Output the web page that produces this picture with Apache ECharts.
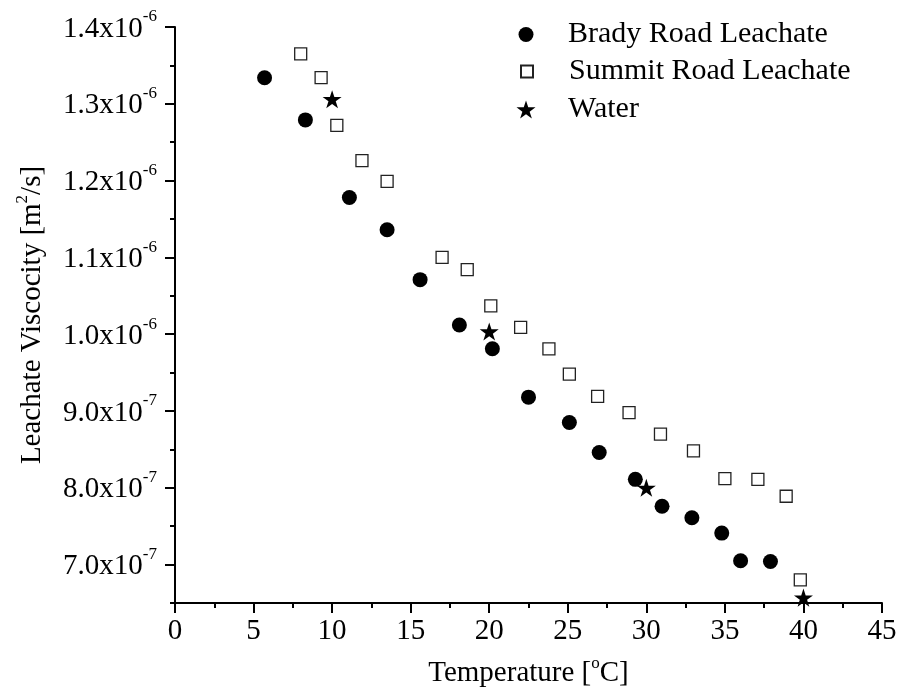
<!DOCTYPE html>
<html><head><meta charset="utf-8">
<script src="https://cdn.jsdelivr.net/npm/echarts@6/dist/echarts.min.js"></script>
<style>html,body{margin:0;padding:0;background:#fff}#c{width:898px;height:688px}</style>
</head><body><div id="c"></div>
<script>
// Temperature [°C], viscosity [m^2/s]
const bradyTemp = [5.7, 8.3, 11.1, 13.5, 15.6, 18.1, 20.2, 22.5, 25.1, 27.0, 29.3, 31.0, 32.9, 34.8, 36.0, 37.9];
const bradyVisc = [1.334e-6, 1.279e-6, 1.178e-6, 1.136e-6, 1.071e-6, 1.012e-6, 0.981e-6, 0.918e-6, 0.885e-6, 0.846e-6, 0.811e-6, 0.776e-6, 0.761e-6, 0.741e-6, 0.705e-6, 0.704e-6];
const summitTemp = [8.0, 9.3, 10.3, 11.9, 13.5, 17.0, 18.6, 20.1, 22.0, 23.8, 25.1, 26.9, 28.9, 30.9, 33.0, 35.0, 37.1, 38.9, 39.8];
const summitVisc = [1.365e-6, 1.334e-6, 1.272e-6, 1.226e-6, 1.199e-6, 1.100e-6, 1.084e-6, 1.037e-6, 1.009e-6, 0.981e-6, 0.948e-6, 0.919e-6, 0.898e-6, 0.870e-6, 0.848e-6, 0.812e-6, 0.811e-6, 0.789e-6, 0.680e-6];
const waterTemp = [10, 20, 30, 40];
const waterVisc = [1.306e-6, 1.0035e-6, 0.800e-6, 0.657e-6];
const yMajorTicks = [0.7e-6, 0.8e-6, 0.9e-6, 1.0e-6, 1.1e-6, 1.2e-6, 1.3e-6, 1.4e-6];
const yMinorTicks = [0.65e-6, 0.75e-6, 0.85e-6, 0.95e-6, 1.05e-6, 1.15e-6, 1.25e-6, 1.35e-6];
const seriesNames = ['Brady Road Leachate', 'Summit Road Leachate', 'Water'];

const FONT = '"Liberation Serif","Times New Roman",serif';
const STAR = 'path://M50,0L61.2,34.5L97.6,34.5L68.2,55.9L79.4,90.5L50,69.1L20.6,90.5L31.8,55.9L2.4,34.5L38.8,34.5Z';
const zip = (a, b) => a.map((v, i) => [v, b[i]]);

function sciLabel(v) {
  const e = Math.floor(Math.log10(v) + 1e-9);
  const m = (v / Math.pow(10, e)).toFixed(1);
  return '{m|' + m + 'x10}{e|' + e + '}';
}
const supRich = {
  m: {fontFamily: FONT, fontSize: 29, color: '#000', lineHeight: 35, verticalAlign: 'bottom'},
  e: {fontFamily: FONT, fontSize: 17, color: '#000', lineHeight: 18, verticalAlign: 'top'}
};
const nameRich = {
  t: {fontFamily: FONT, fontSize: 29, color: '#000', lineHeight: 33, verticalAlign: 'bottom'},
  s: {fontFamily: FONT, fontSize: 17, color: '#000', lineHeight: 17, verticalAlign: 'top'}
};

const chart = echarts.init(document.getElementById('c'), null, {renderer: 'canvas'});
const legendBase = (name, top, h) => ({
  data: [name], left: 526 - h / 2, top: top, orient: 'vertical', itemWidth: h, itemHeight: h,
  selectedMode: false, padding: 0,
  formatter: '{a|{name}}',
  textStyle: {rich: {a: {fontFamily: FONT, fontSize: 30, color: '#000', lineHeight: 30, padding: [0, 0, 0, 37 - h / 2]}}}
});
chart.setOption({
  animation: false,
  backgroundColor: '#fff',
  grid: {left: 175, right: 16, top: 27, bottom: 85, outerBoundsMode: 'none'},
  legend: [legendBase(seriesNames[0], 19.5, 15), legendBase(seriesNames[1], 56.5, 12), legendBase(seriesNames[2], 94.5, 19)],
  xAxis: {
    type: 'value', min: 0, max: 45, interval: 5,
    name: '{t|Temperature [}{s|o}{t|C]}', nameLocation: 'middle', nameGap: 52,
    nameTextStyle: {rich: nameRich},
    axisLine: {lineStyle: {color: '#000', width: 2}},
    axisTick: {length: 10, lineStyle: {color: '#000', width: 2}},
    minorTick: {show: true, splitNumber: 2, length: 5, lineStyle: {color: '#000', width: 2}},
    splitLine: {show: false},
    axisLabel: {margin: 14, fontFamily: FONT, fontSize: 29, color: '#000'}
  },
  yAxis: [{
    type: 'value', min: 0.65e-6, max: 1.4e-6,
    name: '{t|Leachate Viscocity [m}{s|2}{t|/s]}', nameLocation: 'middle', nameGap: 128,
    nameTextStyle: {rich: nameRich},
    axisLine: {lineStyle: {color: '#000', width: 2}},
    axisTick: {length: 10, customValues: yMajorTicks, lineStyle: {color: '#000', width: 2}},
    splitLine: {show: false},
    axisLabel: {margin: 18, customValues: yMajorTicks, formatter: sciLabel, rich: supRich, padding: [0, 0, 2, 0]}
  }, {
    type: 'value', min: 0.65e-6, max: 1.4e-6, position: 'left',
    axisLine: {show: false},
    axisTick: {show: true, length: 5, customValues: yMinorTicks, lineStyle: {color: '#000', width: 2}},
    axisLabel: {show: false}, splitLine: {show: false}
  }],
  series: [
    {name: seriesNames[0], type: 'scatter', data: zip(bradyTemp, bradyVisc), symbol: 'circle', symbolSize: 15,
     itemStyle: {color: '#000', opacity: 1}},
    {name: seriesNames[1], type: 'scatter', data: zip(summitTemp, summitVisc), symbol: 'rect', symbolSize: 12,
     itemStyle: {color: '#fff', borderColor: '#222', borderWidth: 1.3, opacity: 1}},
    {name: seriesNames[2], type: 'scatter', data: zip(waterTemp, waterVisc), symbol: STAR, symbolSize: 19,
     symbolKeepAspect: true, itemStyle: {color: '#000', opacity: 1}}
  ]
});
</script></body></html>
